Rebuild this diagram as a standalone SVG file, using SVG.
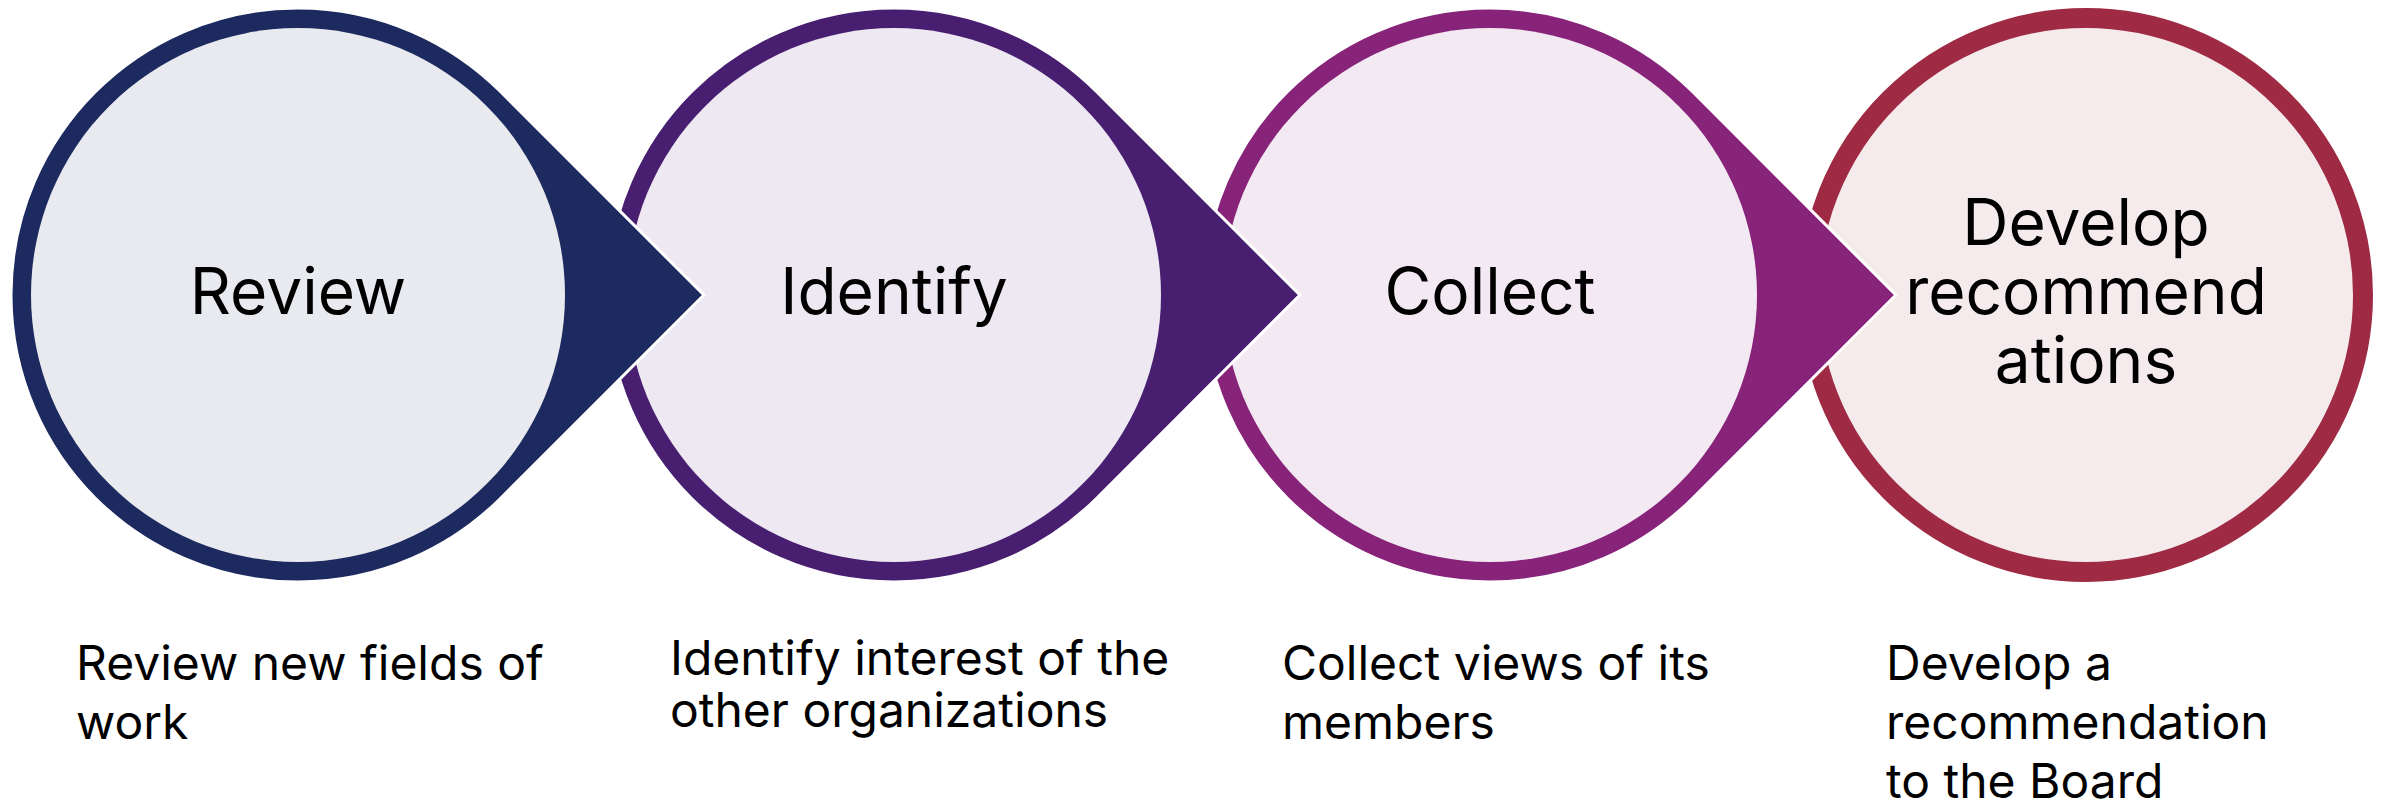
<svg xmlns="http://www.w3.org/2000/svg" width="2389" height="801" viewBox="0 0 2389 801">
<style>
.drop{stroke:#ffffff;stroke-width:3;stroke-linejoin:miter}
.ttl{font-family:Inter,"Noto Sans",sans-serif;font-size:64px;fill:#000;text-anchor:middle}
.lbl{font-family:Inter,"Noto Sans",sans-serif;font-size:48px;fill:#000}
</style>
<rect width="2389" height="801" fill="#ffffff"/>
<g id="node4">
<circle cx="2086" cy="295" r="277" fill="#F5EAEC" stroke="#9E2A43" stroke-width="20"/>
<text class="ttl"><tspan x="2086" y="245">Develop</tspan><tspan x="2086" y="314">recommend</tspan><tspan x="2086" y="383">ations</tspan></text>
</g>
<g id="node3">
<path class="drop" fill="#88237A" d="M1895.9 295 L1692.94 497.94 A287 287 0 1 1 1692.94 92.06 Z"/>
<circle cx="1490" cy="295" r="267" fill="#F3E9F2"/>
<text class="ttl" x="1490" y="314">Collect</text>
</g>
<g id="node2">
<path class="drop" fill="#481E70" d="M1299.9 295 L1096.94 497.94 A287 287 0 1 1 1096.94 92.06 Z"/>
<circle cx="894" cy="295" r="267" fill="#EDE8F1"/>
<text class="ttl" x="894" y="314">Identify</text>
</g>
<g id="node1">
<path class="drop" fill="#1C2A5F" d="M703.9 295 L500.94 497.94 A287 287 0 1 1 500.94 92.06 Z"/>
<circle cx="298" cy="295" r="267" fill="#E8EAEF"/>
<text class="ttl" x="298" y="314">Review</text>
</g>
<g id="labels">
<text class="lbl"><tspan x="76" y="680">Review new fields of</tspan><tspan x="76" y="739">work</tspan></text>
<text class="lbl"><tspan x="670" y="675">Identify interest of the</tspan><tspan x="670" y="727">other organizations</tspan></text>
<text class="lbl"><tspan x="1282" y="680">Collect views of its</tspan><tspan x="1282" y="739">members</tspan></text>
<text class="lbl"><tspan x="1886" y="680">Develop a</tspan><tspan x="1886" y="739">recommendation</tspan><tspan x="1886" y="798">to the Board</tspan></text>
</g>
<g id="connectors"></g>
</svg>
